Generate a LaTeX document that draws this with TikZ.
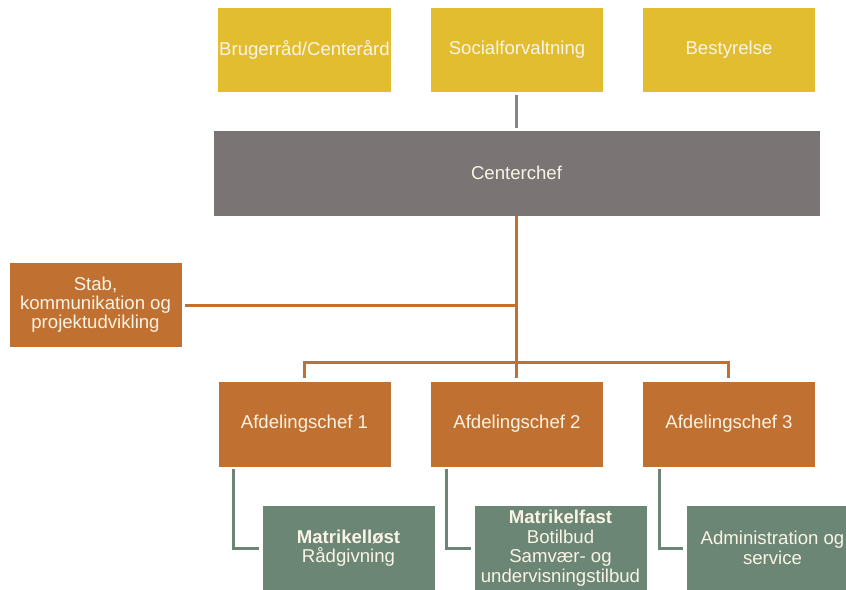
\documentclass[tikz,border=0pt]{standalone}
\usepackage{fontspec}
\setmainfont{Liberation Sans}
\definecolor{boxyellow}{HTML}{E2BD30}
\definecolor{boxgray}{HTML}{7B7475}
\definecolor{boxorange}{HTML}{C07030}
\definecolor{boxgreen}{HTML}{6B8675}
\definecolor{boxtext}{HTML}{FAF4E6}
\definecolor{linegray}{HTML}{8A8585}
\definecolor{linegreen}{HTML}{6B8675}
\tikzset{
  orgbox/.style={draw=white, line width=0.6pt, text=boxtext, align=center,
    inner sep=2pt, font=\fontsize{18.6}{19}\selectfont},
  yellowbox/.style={orgbox, fill=boxyellow, minimum width=173pt, minimum height=85pt},
  graybox/.style={orgbox, fill=boxgray, minimum width=607pt, minimum height=86pt},
  orangebox/.style={orgbox, fill=boxorange, minimum width=173pt, minimum height=86pt},
  greenbox/.style={orgbox, fill=boxgreen, minimum width=173pt, minimum height=85pt,
    font=\fontsize{18.6}{19.5}\selectfont},
  orangeline/.style={draw=boxorange, line width=3pt},
  grayline/.style={draw=linegray, line width=3pt},
  greenline/.style={draw=linegreen, line width=3pt},
}
\begin{document}
\begin{tikzpicture}[x=1pt, y=-1pt]
\useasboundingbox[fill=white] (0,0) rectangle (846,589);

% top row
\node[yellowbox] (bruger) at (304.5,49.5) {Brugerråd/Centerård};
\node[yellowbox] (social) at (517,49.5) {Socialforvaltning};
\node[yellowbox] (best)   at (729,49.5) {Bestyrelse};

% management
\node[graybox] (chef) at (516.5,173) {Centerchef};

% staff function
\node[orangebox, minimum height=85pt] (stab) at (95.5,304.5) {Stab,\\kommunikation og\\projektudvikling};

% department heads
\node[orangebox] (a1) at (304.5,424) {Afdelingschef 1};
\node[orangebox] (a2) at (517,424) {Afdelingschef 2};
\node[orangebox] (a3) at (729,424) {Afdelingschef 3};

% units
\node[greenbox] (g1) at (348.5,548) {\textbf{Matrikelløst}\\Rådgivning};
\node[greenbox] (g2) at (560.5,548) {\textbf{Matrikelfast}\\Botilbud\\Samvær- og\\undervisningstilbud};
\node[greenbox] (g3) at (772.5,548) {Administration og\\service};

% connectors
\coordinate (trunk) at (516,362);
\coordinate (stabjoin) at (516,305);
\draw[grayline, shorten <=3pt, shorten >=2pt] (social.south -| trunk) -- (chef.north -| trunk);
\draw[orangeline] (chef.south -| trunk) -- (trunk);
\draw[orangeline, shorten <=3pt] (stab.east |- stabjoin) -- (stabjoin);
\draw[orangeline, shorten >=3pt] (trunk) -| ([xshift=-0.5pt]a1.north);
\draw[orangeline, shorten >=3pt] (trunk) -| ([xshift=-1pt]a3.north);
\draw[orangeline, shorten >=3pt] (trunk) -- (a2.north -| trunk);

\draw[greenline, shorten <=2pt, shorten >=3pt] ([xshift=16pt]a1.south west) |- (g1.west);
\draw[greenline, shorten <=2pt, shorten >=3pt] ([xshift=16pt]a2.south west) |- (g2.west);
\draw[greenline, shorten <=2pt, shorten >=3pt] ([xshift=17pt]a3.south west) |- (g3.west);
\end{tikzpicture}
\end{document}
